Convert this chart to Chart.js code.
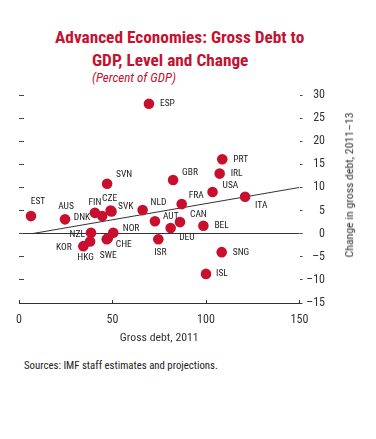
<!DOCTYPE html>
<html><head><meta charset="utf-8">
<script src="https://cdn.jsdelivr.net/npm/chart.js@4"></script>
<style>
html,body{margin:0;padding:0;background:#fff;width:376px;height:439px;overflow:hidden;}
body{position:relative;font-family:'Roboto Condensed','DejaVu Sans Condensed',sans-serif;}
.t{position:absolute;white-space:nowrap;color:#c41230;font-weight:bold;line-height:1;}
#t1{left:55px;top:28.6px;font-size:17.3px;}
#t2{left:92px;top:51.6px;font-size:17.3px;}
#t3{left:92px;top:70.5px;font-size:13px;font-weight:normal;font-style:italic;}
#src{position:absolute;left:24px;top:361px;font-size:10.8px;line-height:1;color:#222;white-space:nowrap;}
#ytitle{position:absolute;left:350px;top:185px;font-size:11.8px;line-height:1;color:#333;white-space:nowrap;transform:translate(-50%,-50%) rotate(-90deg);}
canvas{position:absolute;left:0;top:0;}
</style>
</head><body>
<div class="t" id="t1">Advanced Economies: Gross Debt to</div>
<div class="t" id="t2">GDP, Level and Change</div>
<div class="t" id="t3">(Percent of GDP)</div>
<canvas id="c" width="376" height="350"></canvas>
<div id="ytitle">Change in gross debt, 2011–13</div>
<div id="src">Sources: IMF staff estimates and projections.</div>
<script>
const countries = ['ESP','SVN','GBR','PRT','IRL','USA','FRA','ITA','EST','AUS','FIN','CZE','SVK','DNK','NLD','AUT','CAN','DEU','BEL','SNG','ISL','ISR','NOR','CHE','SWE','NZL','KOR','HKG'];
const debt2011 = [69.5,47.1,82.4,108.7,107.3,103.5,87.0,120.9,6.4,24.6,40.6,49.0,49.5,44.5,66.1,72.7,86.1,81.1,98.6,108.4,100.0,74.5,50.4,47.5,46.9,38.5,34.4,38.0];
const debtChange = [28.1,10.8,11.6,16.1,13.0,9.0,6.4,8.0,3.8,3.1,4.5,5.0,4.8,3.8,5.1,2.7,2.5,1.2,1.7,-4.0,-8.7,-1.2,0.2,-1.0,-1.2,0.2,-2.7,-1.7];
const trendX = [7, 150];
const trendY = [0, 10];
const xTicks = [0, 50, 100, 150];
const yTicks = [-15, -10, -5, 0, 5, 10, 15, 20, 25, 30];

const FONT = "'Roboto Condensed','DejaVu Sans Condensed',sans-serif";
const RED = '#c8102e';

// label placement: [align, dx, dy] relative to the point
const labelPlace = {
  ESP:['left',11,0], SVN:['left',9,-9], GBR:['left',9,-7], PRT:['left',11,0], IRL:['left',11,0],
  USA:['left',10,-6], FRA:['left',7,-8], ITA:['left',10,9], EST:['center',7,-14], AUS:['center',1,-13],
  FIN:['center',0,-10], CZE:['center',-1,-12], SVK:['left',6.5,-5], DNK:['right',-12,2], NLD:['left',8,-7],
  AUT:['left',8,-5], CAN:['left',10,-7], DEU:['left',8.5,9.5], BEL:['left',11,0], SNG:['left',11,0],
  ISL:['left',10,0], ISR:['center',2,13], NOR:['left',9.5,-4.5], CHE:['left',8,6], SWE:['center',1.5,16],
  NZL:['right',-6,2], KOR:['right',-11.5,1], HKG:['center',-4.5,16]
};

const labelPlugin = {
  id: 'pointLabels',
  afterDatasetsDraw(chart) {
    const meta = chart.getDatasetMeta(0);
    const ctx = chart.ctx;
    ctx.save();
    ctx.font = '9.5px ' + FONT;
    ctx.fillStyle = '#222';
    ctx.textBaseline = 'middle';
    meta.data.forEach((pt, i) => {
      const p = labelPlace[countries[i]] || ['left', 9, 0];
      ctx.textAlign = p[0];
      ctx.fillText(countries[i], pt.x + p[1], pt.y + p[2]);
    });
    ctx.restore();
  }
};

const fmt = v => v < 0 ? '\u2013' + Math.abs(v) : String(v);

new Chart(document.getElementById('c'), {
  type: 'scatter',
  data: {
    datasets: [
      {
        label: 'Countries',
        data: countries.map((c, i) => ({x: debt2011[i], y: debtChange[i]})),
        backgroundColor: RED, borderColor: RED, borderWidth: 0,
        pointRadius: 5.3, pointHoverRadius: 5.3, order: 0
      },
      {
        type: 'line', label: 'Trend',
        data: trendX.map((x, i) => ({x: x, y: trendY[i]})),
        borderColor: '#333', borderWidth: 1, pointRadius: 0, fill: false, order: 1
      }
    ]
  },
  options: {
    responsive: false, animation: false, devicePixelRatio: 1,
    layout: {padding: {top: 95, left: 0, right: 51, bottom: 0}},
    plugins: {legend: {display: false}, tooltip: {enabled: false}},
    scales: {
      x: {
        type: 'linear', min: 0, max: 150, position: 'bottom',
        afterBuildTicks: s => { s.ticks = xTicks.map(v => ({value: v})); },
        afterFit: s => { s.height = 47; },
        grid: {drawOnChartArea: false, drawTicks: true, tickLength: -3, tickColor: '#333', tickWidth: 1},
        border: {display: true, color: '#333', width: 1},
        ticks: {padding: 13, color: '#333', font: {family: FONT, size: 12}, maxRotation: 0},
        title: {display: true, text: 'Gross debt, 2011', color: '#333', font: {family: FONT, size: 11.8}, padding: {top: 0, bottom: 5}}
      },
      y: {
        type: 'linear', min: -15, max: 30, position: 'left',
        afterBuildTicks: s => { s.ticks = yTicks.map(v => ({value: v})); },
        afterFit: s => { s.width = 19; },
        grid: {
          color: c => (c.tick && c.tick.value === 0) ? '#333' : 'rgba(0,0,0,0)',
          tickColor: '#444', tickLength: -5, drawTicks: true, lineWidth: 1
        },
        border: {display: false},
        ticks: {display: false}
      },
      y2: {
        type: 'linear', min: -15, max: 30, position: 'right',
        afterBuildTicks: s => { s.ticks = yTicks.map(v => ({value: v})); },
        afterFit: s => { s.width = 25.5; },
        grid: {drawOnChartArea: false, drawTicks: true, tickLength: 3, tickColor: '#444'},
        border: {display: false},
        ticks: {display: true, crossAlign: 'far', padding: 4, color: '#333', font: {family: FONT, size: 12}, callback: fmt}
      }
    }
  },
  plugins: [labelPlugin]
});
</script>
</body></html>
